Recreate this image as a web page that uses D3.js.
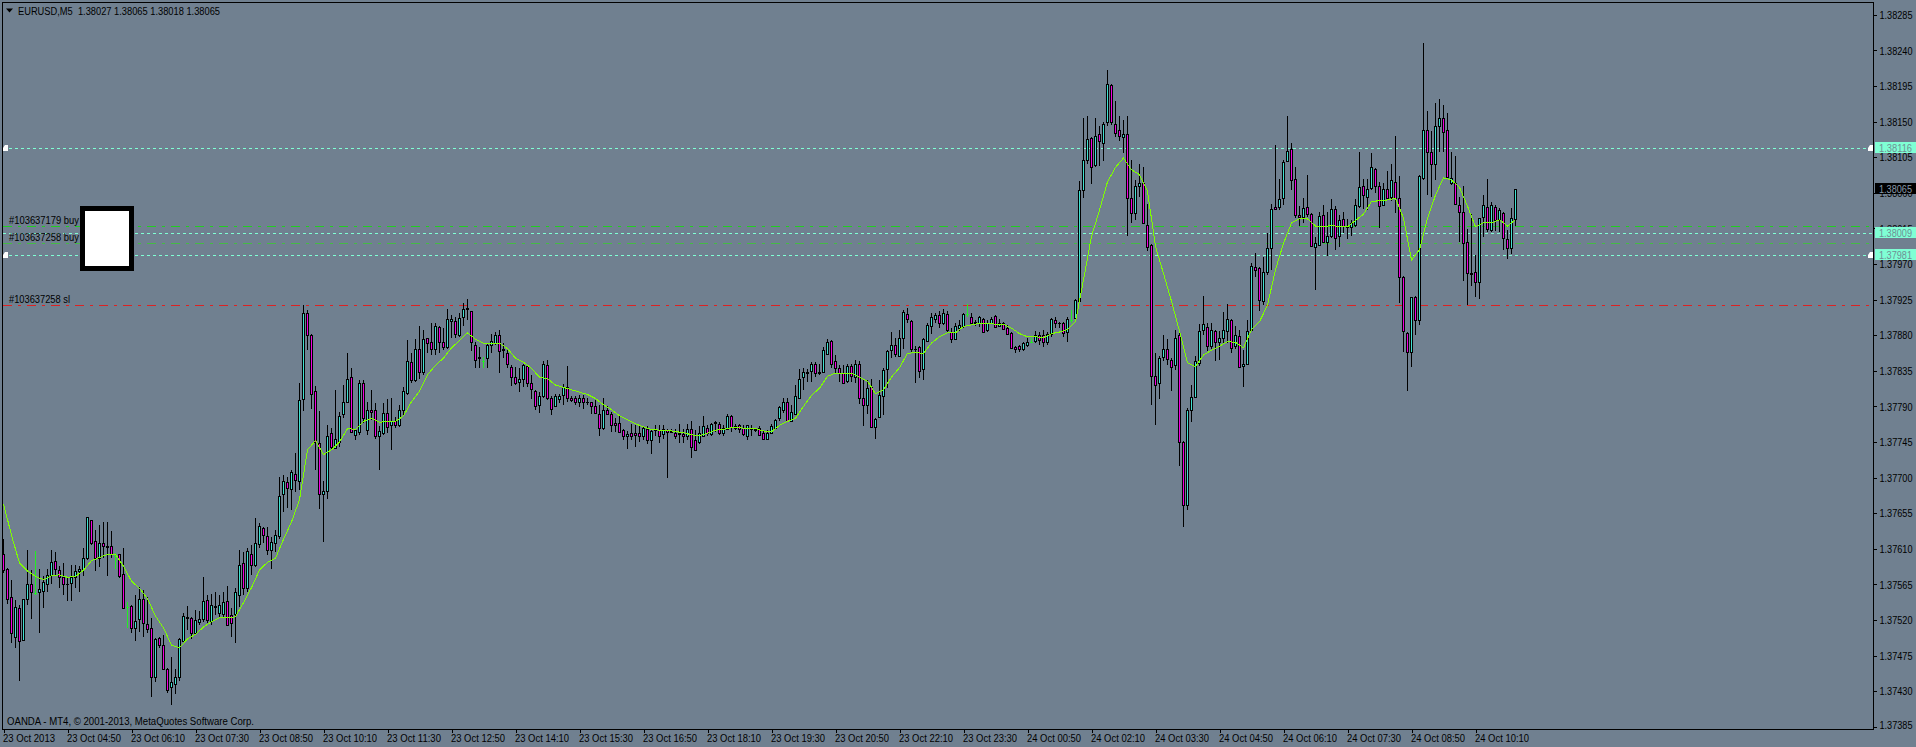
<!DOCTYPE html>
<html>
<head>
<meta charset="utf-8">
<title>EURUSD,M5</title>
<script src="https://cdn.jsdelivr.net/npm/d3@7"></script>
<style>
    html, body { margin: 0; padding: 0; background: #708090; overflow: hidden; }
    text { font-family: "Liberation Sans", sans-serif; font-size: 10px; fill: #000; }
</style>
</head>
<body>
<svg id="chart" width="1916" height="747"></svg>
<script>
// all prices below are points above 1.37000 (1 point = 0.00001)
const price_base = 1.37
const point_size = 0.00001

// one row per M5 bar: open, high, low, close. open === close is a doji
const candles = [
    [603,622,579,583],[584,586,540,547],[549,571,491,503],[498,545,485,537],[535,539,443,493],[495,547,494,546],[546,609,539,566],[565,583,521,555],
    [554,607,552,554],[556,585,504,559],[557,575,535,568],[566,585,556,577],[577,609,566,593],[595,606,575,585],[583,588,560,574],[574,592,552,565],
    [566,574,544,565],[567,590,544,574],[574,590,560,582],[582,588,556,585],[585,611,575,598],[599,650,596,650],[646,647,615,617],[620,634,582,598],
    [599,640,587,617],[617,644,598,613],[614,644,575,612],[613,632,598,603],[601,605,584,601],[603,604,573,576],[578,611,534,535],[537,543,510,537],
    [538,539,504,510],[510,552,493,519],[521,562,505,547],[547,558,499,516],[515,549,504,509],[510,523,423,448],[448,497,442,496],[497,498,484,488],
    [488,501,457,458],[458,459,428,432],[435,473,412,442],[439,458,427,448],[448,497,443,496],[493,529,492,525],[524,538,507,523],[523,524,496,503],
    [504,533,503,520],[518,531,514,521],[521,574,518,544],[545,552,516,520],[519,553,514,539],[538,555,526,537],[529,552,523,539],[528,556,522,543],
    [544,563,513,514],[526,535,498,516],[527,560,491,555],[552,609,537,590],[592,606,552,561],[560,611,556,607],[604,615,577,590],[590,649,587,617],
    [616,642,611,639],[636,638,617,627],[626,638,602,609],[608,625,585,618],[617,634,606,628],[626,701,623,677],[679,703,657,696],[694,701,661,687],
    [685,710,659,707],[704,731,682,697],[696,820,684,798],[799,918,784,908],[908,912,861,880],[880,881,787,806],[810,816,709,745],[744,784,660,679],
    [679,696,619,683],[683,767,673,753],[756,763,735,739],[738,811,736,749],[745,783,739,778],[780,817,775,796],[796,857,794,825],[827,838,756,758],
    [754,762,747,760],[758,824,754,819],[819,823,769,775],[760,795,754,786],[786,811,773,783],[786,794,749,752],[752,765,709,759],[756,794,754,782],
    [782,799,757,764],[767,801,735,772],[772,777,763,767],[767,792,764,785],[785,814,778,809],[807,874,804,847],[846,857,819,824],[823,875,821,862],
    [862,891,825,833],[833,886,830,875],[876,877,857,870],[871,895,855,862],[862,895,855,891],[890,891,858,871],[871,889,861,865],[865,913,862,901],
    [898,905,876,901],[898,903,876,881],[880,908,878,902],[903,921,891,913],[914,926,899,913],[910,911,860,871],[868,872,839,849],[852,865,839,851],
    [847,853,839,847],[851,870,838,867],[867,882,857,873],[870,884,867,880],[880,886,832,860],[862,870,851,861],[858,861,838,843],[840,842,816,827],
    [827,840,817,819],[821,839,808,825],[825,843,815,842],[841,842,815,820],[819,830,799,812],[810,811,785,790],[792,808,782,803],[803,848,800,843],
    [842,849,798,801],[800,803,779,787],[790,806,789,803],[799,806,794,803],[805,818,792,815],[815,841,796,800],[800,803,795,798],[801,803,792,796],
    [795,804,789,801],[801,804,787,796],[796,800,792,795],[795,796,781,791],[790,798,781,782],[781,792,752,763],[763,801,760,786],[786,790,779,781],
    [781,783,758,767],[769,775,758,767],[769,778,757,758],[760,761,747,752],[752,759,736,755],[756,768,747,753],[756,766,739,754],[757,767,745,753],
    [753,765,747,763],[762,765,743,748],[747,761,730,759],[761,767,753,760],[760,766,744,753],[755,766,749,761],[760,762,699,758],[759,761,756,758],
    [757,762,749,752],[757,768,744,755],[755,762,744,752],[752,768,747,761],[762,771,725,739],[747,760,733,735],[745,765,743,757],[753,778,752,765],
    [763,766,753,756],[755,769,752,768],[770,771,758,769],[768,770,754,756],[757,766,752,763],[762,780,760,778],[778,779,758,764],[765,768,760,763],
    [767,768,756,762],[763,767,752,755],[753,767,748,767],[763,767,753,762],[761,763,758,760],[763,765,753,754],[756,759,749,749],[749,760,747,756],
    [756,768,755,765],[763,774,762,773],[775,790,771,789],[785,800,782,796],[796,800,770,772],[772,792,770,783],[781,817,779,803],[801,837,800,825],
    [827,838,811,833],[833,837,821,832],[835,846,821,843],[843,846,827,832],[833,844,830,832],[833,865,832,861],[856,875,855,871],[873,874,838,843],
    [847,855,832,839],[839,842,821,832],[832,842,818,820],[822,843,819,841],[841,843,821,828],[827,849,819,843],[844,848,793,800],[800,825,765,792],
    [792,823,780,813],[815,825,763,764],[764,775,749,774],[776,824,775,804],[803,838,779,836],[837,861,813,860],[861,884,851,867],[867,876,853,856],
    [854,886,853,877],[877,912,863,909],[907,914,895,900],[898,899,859,862],[863,866,820,862],[865,866,826,835],[837,876,824,875],[873,895,872,893],
    [892,908,882,903],[901,908,895,905],[905,910,889,896],[895,913,893,908],[907,910,884,887],[884,889,870,875],[875,895,874,891],[889,899,885,893],
    [891,908,889,907],[907,919,903,907],[903,908,893,896],[897,899,892,896],[895,904,890,903],[901,902,883,884],[886,899,884,896],[896,903,895,901],
    [904,905,889,890],[891,901,890,895],[896,897,886,888],[889,893,880,882],[883,884,862,864],[865,866,858,863],[866,867,859,862],[862,872,860,870],
    [867,876,865,872],[872,877,870,872],[873,885,870,880],[880,884,867,874],[880,886,865,871],[871,884,867,881],[881,902,878,901],[899,903,889,896],
    [896,897,889,895],[896,897,878,883],[884,903,872,901],[899,912,895,899],[902,926,901,924],[923,1075,922,1064],[1064,1154,1053,1102],[1101,1157,1097,1128],
    [1129,1130,1071,1093],[1095,1154,1092,1132],[1134,1144,1094,1125],[1123,1150,1100,1147],[1149,1215,1145,1197],[1196,1197,1146,1149],[1147,1176,1130,1136],[1139,1157,1126,1132],
    [1131,1152,1110,1134],[1134,1157,1005,1054],[1054,1102,1022,1035],[1034,1076,1026,1069],[1068,1097,1055,1073],[1072,1092,1021,1022],[1019,1046,987,992],[994,995,792,828],
    [828,857,767,817],[819,854,799,851],[852,880,847,863],[862,875,842,850],[849,851,810,840],[842,887,836,877],[880,883,715,745],[745,746,637,665],
    [665,788,659,786],[785,817,770,802],[802,854,801,848],[845,894,841,885],[886,930,880,894],[890,895,860,866],[866,895,862,886],[885,886,847,871],
    [871,885,849,876],[876,909,869,887],[885,920,870,900],[899,900,857,864],[866,891,862,880],[879,886,838,840],[841,861,815,844],[843,899,842,885],
    [887,971,886,968],[966,984,954,963],[965,966,910,924],[923,979,918,960],[960,1009,956,990],[990,1046,963,1039],[1042,1121,1039,1040],[1042,1077,1038,1052],
    [1054,1102,1045,1099],[1100,1157,1099,1113],[1115,1123,1064,1076],[1078,1093,1028,1032],[1032,1043,1018,1030],[1029,1053,1022,1041],[1042,1083,1030,1033],[1033,1034,992,993],
    [992,1004,937,996],[994,1036,993,1031],[1032,1044,996,998],[998,1036,980,1006],[1005,1052,1003,1039],[1039,1043,988,1003],[1005,1032,992,1026],[1027,1036,1009,1018],
    [1018,1027,1001,1017],[1017,1026,1006,1022],[1019,1052,1017,1044],[1043,1112,1041,1067],[1069,1078,1039,1057],[1055,1078,1038,1065],[1066,1110,1064,1092],[1090,1091,1060,1068],
    [1069,1074,1015,1043],[1044,1072,1043,1065],[1065,1088,1051,1054],[1055,1097,1050,1076],[1074,1132,1035,1053],[1054,1081,921,953],[953,955,859,885],[883,884,809,859],
    [859,928,840,928],[928,929,880,899],[899,1083,893,1081],[1079,1249,1076,1139],[1139,1164,1057,1111],[1111,1138,1055,1096],[1097,1173,1076,1144],[1144,1178,1112,1155],
    [1154,1171,1111,1137],[1139,1161,1079,1080],[1073,1112,1070,1079],[1072,1106,1045,1046],[1045,1055,998,1036],[1036,1068,949,996],[998,1014,918,958],[958,1033,942,957],
    [960,981,928,947],[947,1028,926,1028],[1030,1057,1004,1044],[1042,1078,1011,1014],[1013,1049,1011,1044],[1042,1045,1012,1026],[1026,1041,1011,1038],[1035,1036,988,1003],
    [1001,1013,976,990],[990,1041,983,1028],[1027,1065,1018,1065]
]

// moving average, read at every second bar
const ma_step = 2
const ma_values = [
    667,627,592,582,575,571,576,577,574,575,583,595,599,603,603,588,569,560,547,525,510,488,485,496,502,511,518,523,523,524,542,561,583,593,598,622,644,672,
    735,747,729,735,
    745,762,761,771,775,770,771,771,778,796,809,830,842,851,864,873,883,875,870,870,870,863,851,846,838,827,825,817,814,811,808,805,800,792,786,778,773,768,
    764,761,760,760,758,757,754,753,756,760,761,763,763,762,762,759,758,766,771,775,790,804,813,828,832,831,832,827,822,806,811,827,839,857,858,857,870,878,883,883,
    891,893,895,895,894,894,889,882,878,878,877,882,884,887,897,
    950,1005,1038,1074,1092,1104,1089,1083,1062,992,958,923,885,845,840,855,861,866,872,871,864,887,897,918,963,996,1022,
    1027,1027,1018,1017,1019,1017,1017,1025,1033,1049,1050,1051,1053,1028,975,988,1028,1057,1079,1076,1067,1043,1017,1022,1022,1026,1018,1026
]

const price_ticks = [1.38285,1.38240,1.38195,1.38150,1.38105,1.38060,1.38015,1.37970,1.37925,1.37880,1.37835,1.37790,1.37745,1.37700,1.37655,1.37610,1.37565,1.37520,1.37475,1.37430,1.37385]
const time_labels = ['23 Oct 2013','23 Oct 04:50','23 Oct 06:10','23 Oct 07:30','23 Oct 08:50','23 Oct 10:10','23 Oct 11:30','23 Oct 12:50','23 Oct 14:10','23 Oct 15:30','23 Oct 16:50','23 Oct 18:10','23 Oct 19:30','23 Oct 20:50','23 Oct 22:10','23 Oct 23:30','24 Oct 00:50','24 Oct 02:10','24 Oct 03:30','24 Oct 04:50','24 Oct 06:10','24 Oct 07:30','24 Oct 08:50','24 Oct 10:10']
const bars_per_label = 16

const alert_lines = [1.38116, 1.38009, 1.37981]
const alert_arrows = [1.38116, 1.37981]
const order_lines = [
    {label: '#103637179 buy', price: 1.38018, color: '#22cc22'},
    {label: '#103637258 buy', price: 1.37996, color: '#44bb44'},
    {label: '#103637258 sl', price: 1.37918, color: '#dd2222'},
]
const last_price = 1.38065
const header_text = 'EURUSD,M5  1.38027 1.38065 1.38018 1.38065'
const footer_text = 'OANDA - MT4, \u00a9 2001-2013, MetaQuotes Software Corp.'

const frame = { left: 2, top: 2, right: 1873, bottom: 729 }
const color = { up: '#40e0d0', down: '#f000e0', doji: '#22ee22', ma: '#7fff00', alert: '#7fffd4', bg: '#708090' }

const xScale = d3.scaleLinear().domain([0, candles.length - 1]).range([3, 1515])
const yScale = d3.scaleLinear().domain([1.38285, 1.37385]).range([14.8, 726.8])
const toPrice = (p) => price_base + p * point_size
const py = (p) => Math.round(yScale(toPrice(p)))

// Tahoma is not installed, so squeeze the sans text to the width it had
function fitText(selection, width) {
    selection.attr('textLength', width).attr('lengthAdjust', 'spacingAndGlyphs')
}

const svg = d3.select('#chart')
svg.append('rect').attr('width', 1916).attr('height', 747).attr('fill', color.bg)

// horizontal levels go under the bars
const levels = svg.append('g').attr('shape-rendering', 'crispEdges')
levels.selectAll('.order-line')
    .data(order_lines)
    .join('line')
    .attr('class', 'order-line')
    .attr('x1', 3)
    .attr('x2', frame.right)
    .attr('y1', (d) => Math.floor(yScale(d.price)) + 0.5)
    .attr('y2', (d) => Math.floor(yScale(d.price)) + 0.5)
    .attr('stroke', (d) => d.color)
    .attr('stroke-dasharray', '9,6,3,6')
levels.selectAll('.alert-line')
    .data(alert_lines)
    .join('line')
    .attr('class', 'alert-line')
    .attr('x1', 3)
    .attr('x2', frame.right)
    .attr('y1', (d) => Math.floor(yScale(d)) + 0.5)
    .attr('y2', (d) => Math.floor(yScale(d)) + 0.5)
    .attr('stroke', color.alert)
    .attr('stroke-dasharray', '3,3')

// bars
const bars = svg.append('g').attr('shape-rendering', 'crispEdges')
    .selectAll('g')
    .data(candles)
    .join('g')
    .attr('transform', (d, i) => `translate(${xScale(i)},0)`)
bars.append('rect') // wick
    .attr('x', 0)
    .attr('width', 1)
    .attr('y', (d) => py(d[1]))
    .attr('height', (d) => Math.max(1, py(d[2]) - py(d[1])))
    .attr('fill', (d) => d[0] === d[3] ? color.doji : '#000')
bars.append('rect') // body outline
    .attr('x', -1)
    .attr('width', 3)
    .attr('y', (d) => py(Math.max(d[0], d[3])))
    .attr('height', (d) => Math.max(1, py(Math.min(d[0], d[3])) - py(Math.max(d[0], d[3])) + 1))
    .attr('fill', (d) => d[0] === d[3] ? color.doji : '#000')
bars.append('rect') // body fill
    .attr('x', 0)
    .attr('width', 1)
    .attr('y', (d) => py(Math.max(d[0], d[3])) + 1)
    .attr('height', (d) => Math.max(0, py(Math.min(d[0], d[3])) - py(Math.max(d[0], d[3])) - 1))
    .attr('fill', (d) => d[3] > d[0] ? color.up : color.down)

const maLine = d3.line()
    .x((d, i) => xScale(i * ma_step) + 0.5)
    .y((d) => yScale(toPrice(d)))
svg.append('path')
    .attr('d', maLine(ma_values))
    .attr('fill', 'none')
    .attr('stroke', color.ma)
    .attr('stroke-width', 1)
    .attr('shape-rendering', 'crispEdges')

// order labels, the white box sits on top of their ends
svg.selectAll('.order-label')
    .data(order_lines)
    .join('text')
    .attr('class', 'order-label')
    .attr('x', 9)
    .attr('y', (d) => Math.floor(yScale(d.price)) - 2)
    .text((d) => d.label)
    .call(fitText, (d) => d.label.endsWith('sl') ? 61 : 70)
svg.append('rect')
    .attr('x', 82.5)
    .attr('y', 208.5)
    .attr('width', 49)
    .attr('height', 60)
    .attr('fill', '#fff')
    .attr('stroke', '#000')
    .attr('stroke-width', 5)
    .attr('shape-rendering', 'crispEdges')

// frame and axes
svg.append('rect')
    .attr('x', frame.left + 0.5)
    .attr('y', frame.top + 0.5)
    .attr('width', frame.right - frame.left)
    .attr('height', frame.bottom - frame.top)
    .attr('fill', 'none')
    .attr('stroke', '#000')
    .attr('shape-rendering', 'crispEdges')

const priceAxis = svg.append('g')
    .attr('transform', `translate(${frame.right + 0.5},0)`)
    .call(d3.axisRight(yScale).tickValues(price_ticks).tickSize(3).tickPadding(3).tickFormat(d3.format('.5f')))
priceAxis.select('.domain').remove()
priceAxis.selectAll('line').attr('stroke', '#000').attr('shape-rendering', 'crispEdges')
priceAxis.selectAll('text').attr('font-family', null).attr('font-size', null).attr('dy', '0.36em').call(fitText, 33)
priceAxis.selectAll('.tick').filter((d) => d === 1.37385).select('text').attr('y', -2)

const timeAxis = svg.append('g')
    .attr('transform', `translate(0.5,${frame.bottom + 0.5})`)
    .call(d3.axisBottom(xScale)
        .tickValues(time_labels.map((d, i) => i * bars_per_label))
        .tickSize(3)
        .tickPadding(2)
        .tickFormat((d) => time_labels[d / bars_per_label]))
timeAxis.select('.domain').remove()
timeAxis.selectAll('line').attr('stroke', '#000').attr('shape-rendering', 'crispEdges')
timeAxis.selectAll('text').attr('text-anchor', 'start').attr('x', -1).call(fitText, (d) => d === 0 ? 52 : 54)

// price tags over the right axis
const tags = [...alert_lines.map((d) => ({price: d, fill: color.alert, text: '#6f8f95'})), {price: last_price, fill: '#000', text: '#8899aa'}]
const tag = svg.selectAll('.tag')
    .data(tags)
    .join('g')
    .attr('class', 'tag')
    .attr('transform', (d) => `translate(1875,${Math.floor(yScale(d.price) + 0.2)})`)
tag.append('rect')
    .attr('y', -6)
    .attr('width', 41)
    .attr('height', 11)
    .attr('fill', (d) => d.fill)
    .attr('shape-rendering', 'crispEdges')
tag.append('text')
    .attr('x', 4)
    .attr('y', 3.5)
    .text((d) => d3.format('.5f')(d.price))
    .style('fill', (d) => d.text)
    .call(fitText, 33)

// small white markers at both ends of the alert lines
const markerPath = 'M0,3 L2,0 L5,0 L5,6 L0,6 Z'
alert_arrows.forEach((p) => {
    [3, frame.right - 5].forEach((mx) => {
        svg.append('path')
            .attr('d', markerPath)
            .attr('transform', `translate(${mx},${Math.floor(yScale(p)) - 3})`)
            .attr('fill', '#fff')
    })
})

// header and footer
svg.append('path').attr('d', 'M6,8.5 L13,8.5 L9.5,12.5 Z').attr('fill', '#000')
svg.append('text').attr('x', 18).attr('y', 14.5).style('white-space', 'pre').text(header_text).call(fitText, 202)
svg.append('text').attr('x', 7).attr('y', 725).text(footer_text).call(fitText, 247)
</script>
</body>
</html>
